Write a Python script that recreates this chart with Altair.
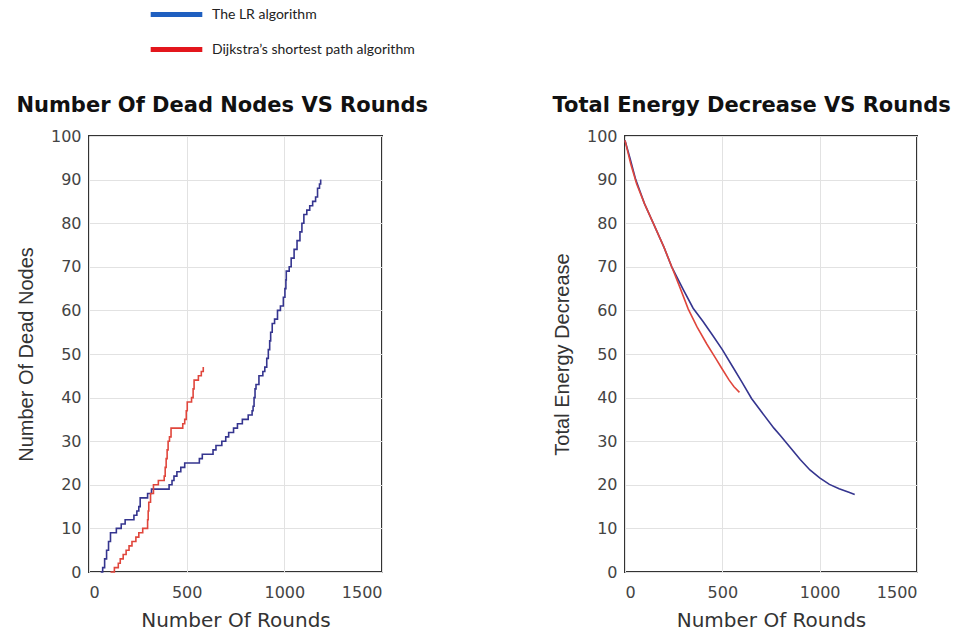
import altair as alt
import pandas as pd

# ---- data ----
series_names = ["The LR algorithm", "Dijkstra\u2019s shortest path algorithm"]

lr_dead_rounds = [60, 70, 80, 90, 100, 110, 140, 165, 185, 230, 245, 255, 262, 300, 320, 410, 425, 435,
                  450, 470, 490, 565, 580, 635, 650, 680, 700, 715, 740, 760, 785, 815, 835, 840, 845,
                  850, 855, 870, 890, 900, 910, 918, 925, 930, 938, 950, 965, 980, 995, 1003, 1008,
                  1010, 1025, 1035, 1050, 1065, 1080, 1090, 1100, 1115, 1130, 1145, 1160, 1170, 1180, 1186]
lr_dead_nodes = [0, 1, 3, 5, 7, 9, 10, 11, 12, 13, 14, 15, 17, 18, 19, 20, 21, 22,
                 23, 24, 25, 26, 27, 28, 29, 30, 31, 32, 33, 34, 35, 36, 37, 38, 40,
                 42, 43, 45, 46, 47, 49, 51, 53, 55, 57, 58, 60, 61, 63, 65, 67,
                 69, 70, 72, 74, 76, 78, 80, 82, 83, 84, 85, 86, 88, 89, 90]

dj_dead_rounds = [110, 130, 150, 160, 175, 190, 205, 220, 240, 255, 275, 300, 303, 306, 315, 330, 355,
                  385, 390, 395, 400, 405, 412, 420, 480, 490, 498, 503, 525, 533, 538, 560, 575, 585]
dj_dead_nodes = [0, 1, 2, 3, 4, 5, 6, 7, 8, 9, 10, 12, 14, 16, 18, 20, 21,
                 22, 24, 26, 28, 30, 31, 33, 34, 35, 37, 39, 40, 42, 44, 45, 46, 47]

lr_energy_rounds = [0, 25, 55, 100, 145, 200, 240, 300, 350, 400, 450, 500, 550, 600, 650, 700,
                    765, 800, 850, 900, 950, 1000, 1050, 1100, 1150, 1180]
lr_energy_values = [99, 95, 90, 84.5, 80, 74.5, 70, 64.7, 60.5, 57.5, 54.3, 51, 47.3, 43.6, 39.8, 36.8,
                    33, 31.2, 28.5, 25.8, 23.4, 21.6, 20.1, 19.1, 18.3, 17.8]

dj_energy_rounds = [0, 30, 60, 100, 145, 200, 240, 280, 325, 370, 420, 466, 500, 535, 560, 588]
dj_energy_values = [99, 93.5, 89, 84.5, 80, 74.5, 70, 65.5, 60.3, 56.2, 52.3, 49, 46.5, 44, 42.5, 41.2]

x_ticks = [0, 500, 1000, 1500]
y_ticks = list(range(0, 101, 10))

legend_colors = ["#1f5fc0", "#e3161c"]
line_colors = ["#35358f", "#e0463c"]

# ---- tables ----
dead = pd.concat([
    pd.DataFrame({"rounds": lr_dead_rounds, "value": lr_dead_nodes, "series": series_names[0]}),
    pd.DataFrame({"rounds": dj_dead_rounds, "value": dj_dead_nodes, "series": series_names[1]}),
])
energy = pd.concat([
    pd.DataFrame({"rounds": lr_energy_rounds, "value": lr_energy_values, "series": series_names[0]}),
    pd.DataFrame({"rounds": dj_energy_rounds, "value": dj_energy_values, "series": series_names[1]}),
])

AX_FONT = "DejaVu Sans"


def x_enc():
    return alt.X("rounds:Q", scale=alt.Scale(domain=[0, 1500], nice=False),
                 axis=alt.Axis(values=x_ticks, format="d", title="Number Of Rounds",
                               titleFont="DejaVu Sans", titleFontSize=20, titleFontWeight="normal",
                               titleColor="#333", titlePadding=10,
                               labelFont=AX_FONT, labelFontSize=16, labelColor="#444", labelPadding=12,
                               grid=True, gridColor="#e2e2e2", domain=False, ticks=False))


def y_enc(title):
    return alt.Y("value:Q", scale=alt.Scale(domain=[0, 100], nice=False),
                 axis=alt.Axis(values=y_ticks, title=title, titleFont="Liberation Sans",
                               titleFontSize=20, titleFontWeight="normal", titleColor="#333",
                               titlePadding=14,
                               labelFont=AX_FONT, labelFontSize=16, labelColor="#444", labelPadding=8,
                               grid=True, gridColor="#e2e2e2", domain=False, ticks=False))


def panel_title(text):
    return alt.TitleParams(text, anchor="start", frame="bounds", font="DejaVu Sans", fontSize=21,
                           fontWeight="bold", color="#111", offset=12)


legend_layer = alt.Chart(dead).mark_line(strokeOpacity=0).encode(
    x=x_enc(),
    y=y_enc("Number Of Dead Nodes"),
    color=alt.Color("series:N", scale=alt.Scale(domain=series_names, range=legend_colors),
                    legend=alt.Legend(title=None, orient="none", legendX=63, legendY=-146,
                                      symbolType="M-1.2,0H1.2", symbolSize=1850, symbolStrokeWidth=5,
                                      symbolOpacity=1, symbolFillColor="transparent",
                                      labelFont="Lato", labelFontSize=14,
                                      labelColor="#222", labelLimit=400, rowPadding=0,
                                      labelOffset=11)),
)

left_lines = alt.Chart(dead).mark_line(interpolate="step-after", strokeWidth=1.6).encode(
    x=x_enc(),
    y=y_enc("Number Of Dead Nodes"),
    stroke=alt.Stroke("series:N", scale=alt.Scale(domain=series_names, range=line_colors), legend=None),
)

left = alt.layer(legend_layer, left_lines).properties(
    width=293, height=436, title=panel_title("Number Of Dead Nodes VS Rounds"))

right = alt.Chart(energy).mark_line(strokeWidth=1.6).encode(
    x=x_enc(),
    y=y_enc("Total Energy Decrease"),
    stroke=alt.Stroke("series:N", scale=alt.Scale(domain=series_names, range=line_colors), legend=None),
).properties(width=292, height=436, title=panel_title("Total Energy Decrease VS Rounds"))

chart = alt.hconcat(left, right, spacing=243, bounds="flush").resolve_scale(
    color="shared", stroke="shared"
).resolve_legend(color="shared").properties(
    background="white", padding={"left": 15, "top": -10, "right": 5, "bottom": 0}
).configure_view(stroke="#333", strokeWidth=2)

chart.save("out.html", embed_options={"renderer": "svg", "actions": False})
